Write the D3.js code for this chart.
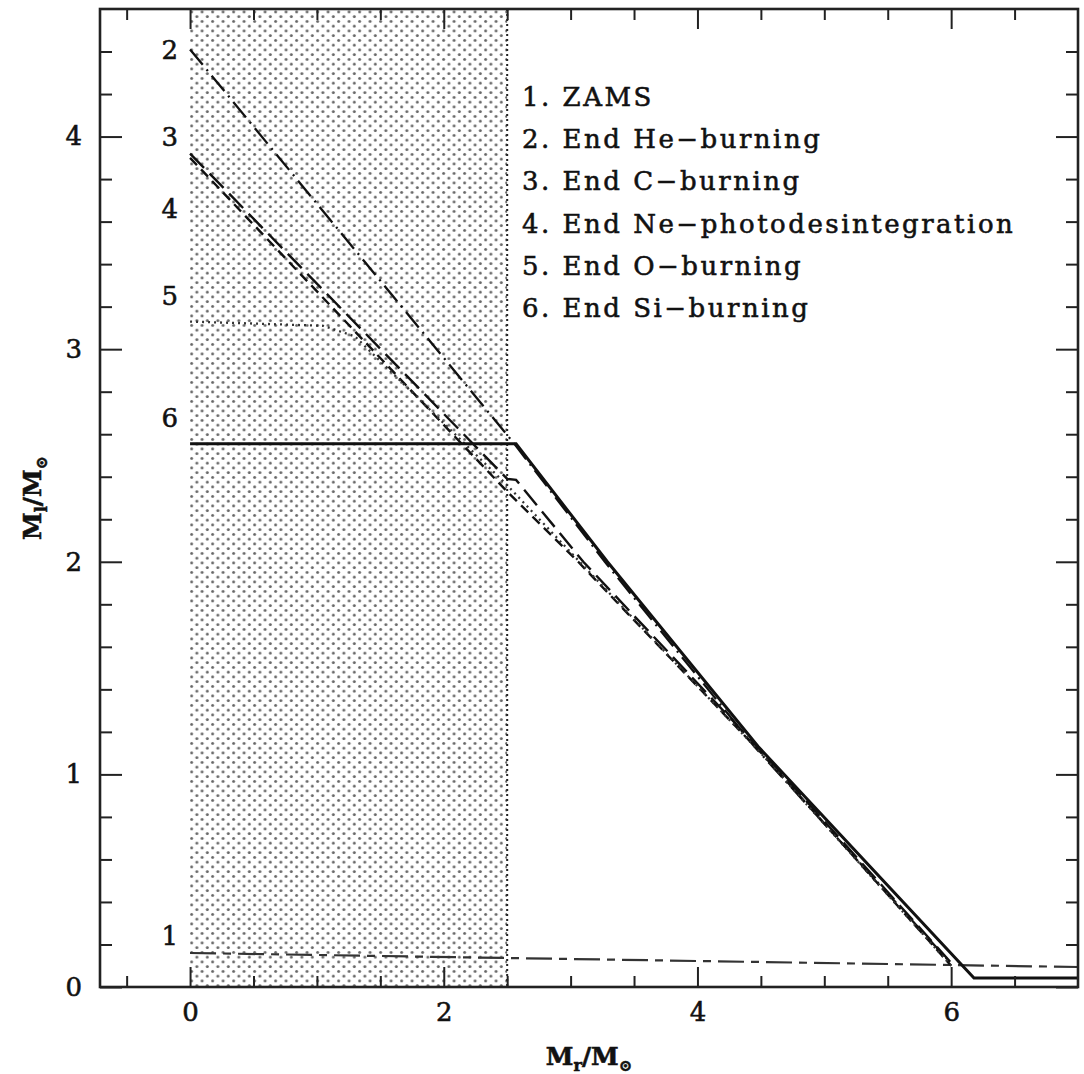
<!DOCTYPE html>
<html lang="en">
<head>
<meta charset="UTF-8">
<title>Mass coordinate evolution</title>
<script src="https://d3js.org/d3.v7.min.js"></script>
<style>
  html, body { margin: 0; padding: 0; background: #fff; }
  svg text { font-family: "DejaVu Serif", "Liberation Serif", serif; fill: #111; stroke: #111; stroke-width: 0.55px; }
</style>
</head>
<body>
<div id="chart"></div>
<script>
// curves: [M_r, M_l] points
const zams      = [[0, 0.16], [7.0, 0.094]];
const endHe     = [[0, 4.41], [2.55, 2.56], [3.27, 2.0], [4.45, 1.13], [6.0, 0.11]];
const endC      = [[0, 3.92], [2.5, 2.39], [2.57, 2.385], [3.10, 2.0], [4.55, 1.08], [6.02, 0.10]];
const endNe     = [[0, 3.90], [2.5, 2.33], [3.06, 2.0], [4.52, 1.09], [6.0, 0.10]];
const endO      = [[0, 3.13], [1.05, 3.11], [1.3, 3.06], [2.5, 2.36], [4.5, 1.1], [6.0, 0.10]];
const endSi     = [[0, 2.555], [2.57, 2.555], [3.29, 2.0], [4.48, 1.13], [6.18, 0.042], [7.0, 0.042]];

const curveData   = [zams, endHe, endC, endNe, endO, endSi];
const curveNames  = ["1. ZAMS", "2. End He\u2212burning", "3. End C\u2212burning",
                     "4. End Ne\u2212photodesintegration", "5. End O\u2212burning", "6. End Si\u2212burning"];
const curveTags   = ["1", "2", "3", "4", "5", "6"];
const curveTagY   = [0.24, 4.41, 4.0, 3.66, 3.25, 2.68];

const shadedRange = [0, 2.5];

const xMajor = [0, 2, 4, 6];
const xMinor = [-0.5, 0.5, 1, 1.5, 2.5, 3, 3.5, 4.5, 5, 5.5, 6.5];
const yMajor = [0, 1, 2, 3, 4];
const yMinor = [0.2, 0.4, 0.6, 0.8, 1.2, 1.4, 1.6, 1.8, 2.2, 2.4, 2.6, 2.8, 3.2, 3.4, 3.6, 3.8, 4.2, 4.4];

const width = 1084, height = 1074;
const mLeft = 100, mRight = 1078, mTop = 9, mBottom = 987;

const svg = d3.select("#chart").append("svg")
    .attr("width", width)
    .attr("height", height);

const x = d3.scaleLinear().domain([-0.71, 7.0]).range([mLeft, mRight]);
const y = d3.scaleLinear().domain([0, 4.6]).range([mBottom, mTop]);

// dotted pattern for the shaded core
const defs = svg.append("defs");
const pat = defs.append("pattern")
    .attr("id", "dots")
    .attr("width", 10.5).attr("height", 9.5)
    .attr("patternUnits", "userSpaceOnUse");
pat.append("circle").attr("cx", 2.6).attr("cy", 2.4).attr("r", 1.5).attr("fill", "#666");
pat.append("circle").attr("cx", 7.85).attr("cy", 7.1).attr("r", 1.5).attr("fill", "#666");

svg.append("rect")
    .attr("x", x(shadedRange[0]))
    .attr("y", mTop)
    .attr("width", x(shadedRange[1]) - x(shadedRange[0]))
    .attr("height", mBottom - mTop)
    .attr("fill", "url(#dots)");

svg.append("line")
    .attr("x1", x(shadedRange[1])).attr("x2", x(shadedRange[1]))
    .attr("y1", mTop).attr("y2", mBottom)
    .attr("stroke", "#222")
    .attr("stroke-width", 2)
    .attr("stroke-dasharray", "2,3");

// line styles, one per curve (ZAMS ... Si)
const dashes = ["26,7,8,7", "20,6,2,6", "20,8", "10,6", "2,4", null];
const widths = [2.2, 2.3, 2.4, 2.4, 2.3, 3];
const colors = ["#333", "#111", "#111", "#111", "#333", "#111"];

const line = d3.line().x(d => x(d[0])).y(d => y(d[1]));

svg.append("g")
    .selectAll("path")
    .data(curveData)
    .join("path")
    .attr("d", line)
    .attr("fill", "none")
    .attr("stroke", (d, i) => colors[i])
    .attr("stroke-width", (d, i) => widths[i])
    .attr("stroke-dasharray", (d, i) => dashes[i]);

// curve numbers on the left of the core
svg.append("g")
    .selectAll("text")
    .data(curveTags)
    .join("text")
    .attr("x", x(-0.16))
    .attr("y", (d, i) => y(curveTagY[i]))
    .attr("dy", "0.36em")
    .attr("text-anchor", "middle")
    .attr("font-size", 26)
    .text(d => d);

// legend
svg.append("g")
    .selectAll("text")
    .data(curveNames)
    .join("text")
    .attr("x", 522)
    .attr("y", (d, i) => 106 + i * 42.2)
    .attr("font-size", 26)
    .attr("letter-spacing", 2.5)
    .text(d => d);

// axes: inward ticks on all four sides
function styleAxis(g) {
    g.select(".domain").remove();
    g.selectAll(".tick line").attr("stroke", "#222").attr("stroke-width", 2);
    g.selectAll(".tick text").attr("font-size", 26).attr("fill", "#111")
        .attr("font-family", "DejaVu Serif, serif");
}

svg.append("g").attr("transform", `translate(0,${mBottom})`)
    .call(d3.axisBottom(x).tickValues(xMajor).tickSize(-20).tickPadding(16).tickFormat(d3.format("d")))
    .call(styleAxis);
svg.append("g").attr("transform", `translate(0,${mBottom})`)
    .call(d3.axisBottom(x).tickValues(xMinor).tickSize(-11).tickFormat(""))
    .call(styleAxis);
svg.append("g").attr("transform", `translate(0,${mTop})`)
    .call(d3.axisTop(x).tickValues(xMajor).tickSize(-20).tickFormat(""))
    .call(styleAxis);
svg.append("g").attr("transform", `translate(0,${mTop})`)
    .call(d3.axisTop(x).tickValues(xMinor).tickSize(-11).tickFormat(""))
    .call(styleAxis);

svg.append("g").attr("transform", `translate(${mLeft},0)`)
    .call(d3.axisLeft(y).tickValues(yMajor).tickSize(-22).tickPadding(18).tickFormat(d3.format("d")))
    .call(styleAxis);
svg.append("g").attr("transform", `translate(${mLeft},0)`)
    .call(d3.axisLeft(y).tickValues(yMinor).tickSize(-12).tickFormat(""))
    .call(styleAxis);
svg.append("g").attr("transform", `translate(${mRight},0)`)
    .call(d3.axisRight(y).tickValues(yMajor).tickSize(-22).tickFormat(""))
    .call(styleAxis);
svg.append("g").attr("transform", `translate(${mRight},0)`)
    .call(d3.axisRight(y).tickValues(yMinor).tickSize(-12).tickFormat(""))
    .call(styleAxis);

// frame
svg.append("rect")
    .attr("x", mLeft).attr("y", mTop)
    .attr("width", mRight - mLeft).attr("height", mBottom - mTop)
    .attr("fill", "none")
    .attr("stroke", "#222")
    .attr("stroke-width", 2.6);

// axis titles
const xt = svg.append("text")
    .attr("x", (mLeft + mRight) / 2)
    .attr("y", 1065)
    .attr("text-anchor", "middle")
    .attr("font-size", 25)
    .attr("font-weight", "bold");
xt.append("tspan").text("M");
xt.append("tspan").attr("font-size", 16).attr("dy", 6).text("r");
xt.append("tspan").attr("dy", -6).text("/M");
xt.append("tspan").attr("font-size", 16).attr("dy", 6).text("\u2299");

const yt = svg.append("text")
    .attr("transform", `translate(41,${(mTop + mBottom) / 2}) rotate(-90)`)
    .attr("text-anchor", "middle")
    .attr("font-size", 25)
    .attr("font-weight", "bold");
yt.append("tspan").text("M");
yt.append("tspan").attr("font-size", 16).attr("dy", 6).text("l");
yt.append("tspan").attr("dy", -6).text("/M");
yt.append("tspan").attr("font-size", 16).attr("dy", 6).text("\u2299");
</script>
</body>
</html>
